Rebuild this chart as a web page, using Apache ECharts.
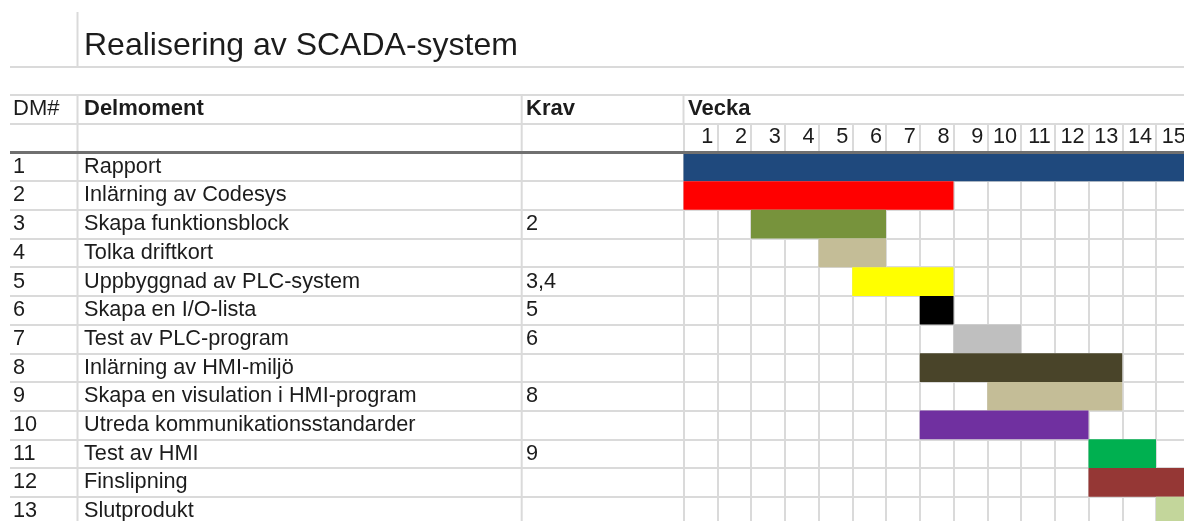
<!DOCTYPE html>
<html>
<head>
<meta charset="utf-8">
<title>Realisering av SCADA-system</title>
<script src="https://cdn.jsdelivr.net/npm/echarts@6/dist/echarts.min.js"></script>
<style>
html, body { margin: 0; padding: 0; background: #fff; }
#main { width: 1184px; height: 521px; }
</style>
</head>
<body>
<div id="main"></div>
<script>
// table data
var dmIds = ['1', '2', '3', '4', '5', '6', '7', '8', '9', '10', '11', '12', '13'];
var tasks = ['Rapport', 'Inlärning av Codesys', 'Skapa funktionsblock', 'Tolka driftkort',
	'Uppbyggnad av PLC-system', 'Skapa en I/O-lista', 'Test av PLC-program', 'Inlärning av HMI-miljö',
	'Skapa en visulation i HMI-program', 'Utreda kommunikationsstandarder', 'Test av HMI',
	'Finslipning', 'Slutprodukt'];
var krav = ['', '', '2', '', '3,4', '5', '6', '', '8', '', '9', '', ''];
// first and last week of each task
var startWeek = [1, 1, 3, 5, 6, 8, 9, 8, 10, 8, 13, 13, 15];
var endWeek = [15, 8, 6, 6, 8, 8, 10, 13, 13, 12, 14, 15, 15];
var barColors = ['#1f497d', '#ff0000', '#77933c', '#c4bd97', '#ffff00', '#000000', '#bfbfbf',
	'#494429', '#c4bd97', '#7030a0', '#00b050', '#953735', '#c3d69b'];
var weekLabels = ['1', '2', '3', '4', '5', '6', '7', '8', '9', '10', '11', '12', '13', '14', '15'];

// layout
var rowH = 28.68;
var tableTop = 152.5;
var tableLeft = 10;
var ganttLeft = 683.5;
var weekW = 33.75;
var gridColor = '#dadada';
var textColor = '#1c1c1c';
var fontFam = '"Liberation Sans", Arial, sans-serif';
var cellFont = 21.7;

var myChart = echarts.init(document.getElementById('main'));

var barData = [];
var rowData = [];
for (var i = 0; i < tasks.length; i++) {
	barData.push([startWeek[i] - 1, endWeek[i], i]);
	rowData.push([0, i]);
}

// one text column of the table, drawn in the row scale of grid 0
function textColumn(texts, offset) {
	return {
		type: 'custom',
		xAxisIndex: 0,
		yAxisIndex: 0,
		data: rowData,
		silent: true,
		renderItem: function (params, api) {
			var p = api.coord([0, api.value(1) + 0.5]);
			return {
				type: 'text',
				x: p[0] + offset,
				y: p[1],
				style: {
					text: texts[params.dataIndex],
					fontSize: cellFont,
					fontFamily: fontFam,
					fill: textColor,
					verticalAlign: 'middle'
				}
			};
		}
	};
}

var hidden = { show: false };

var option = {
	backgroundColor: '#fff',
	animation: false,
	grid: [
		{ left: tableLeft, top: tableTop - 3 * rowH, width: 1174, height: 16 * rowH,
			containLabel: false, outerBoundsMode: 'none' },
		{ left: ganttLeft, top: tableTop, width: 15 * weekW, height: 13 * rowH,
			containLabel: false, outerBoundsMode: 'none' }
	],
	xAxis: [
		{ gridIndex: 0, type: 'value', min: 0, max: 1, show: false },
		{
			gridIndex: 1, type: 'value', position: 'top', min: 0, max: 15, interval: 1,
			axisLine: hidden,
			axisTick: { show: true, inside: false, length: 29.2, lineStyle: { color: gridColor, width: 2 } },
			axisLabel: {
				margin: 4,
				align: 'right',
				padding: [0, 4, 0, 0],
				color: textColor,
				fontSize: cellFont,
				fontFamily: fontFam,
				formatter: function (v) { return v === 0 ? '' : weekLabels[v - 1]; }
			},
			splitLine: { show: true, lineStyle: { color: gridColor, width: 2 } }
		}
	],
	yAxis: [
		{
			gridIndex: 0, type: 'value', inverse: true, min: -3, max: 13, interval: 1,
			axisLine: hidden, axisTick: hidden, axisLabel: hidden,
			splitLine: { show: true, lineStyle: { color: gridColor, width: 2 } }
		},
		{
			gridIndex: 1, type: 'value', inverse: true, min: 0, max: 13, interval: 1,
			axisLine: hidden, axisTick: hidden, axisLabel: hidden, splitLine: hidden
		}
	],
	series: [
		textColumn(dmIds, 13 - tableLeft),
		textColumn(tasks, 84 - tableLeft),
		textColumn(krav, 526 - tableLeft),
		{
			type: 'custom',
			xAxisIndex: 1,
			yAxisIndex: 1,
			data: barData,
			encode: { x: [0, 1], y: 2 },
			renderItem: function (params, api) {
				var p0 = api.coord([api.value(0), api.value(2)]);
				var p1 = api.coord([api.value(1), api.value(2) + 1]);
				return {
					type: 'rect',
					shape: { x: p0[0], y: p0[1], width: p1[0] - p0[0], height: p1[1] - p0[1] },
					style: { fill: barColors[params.dataIndex] }
				};
			}
		}
	],
	graphic: [
		{ type: 'text', x: 84, y: 46, z: 10,
			style: { text: 'Realisering av SCADA-system', fontSize: 32, fontFamily: fontFam, fill: textColor, verticalAlign: 'middle' } },
		{ type: 'text', x: 13, y: 109, z: 10,
			style: { text: 'DM#', fontSize: 22, fontFamily: fontFam, fill: textColor, verticalAlign: 'middle' } },
		{ type: 'text', x: 84, y: 109, z: 10,
			style: { text: 'Delmoment', fontSize: 22, fontWeight: 'bold', fontFamily: fontFam, fill: textColor, verticalAlign: 'middle' } },
		{ type: 'text', x: 526, y: 109, z: 10,
			style: { text: 'Krav', fontSize: 22, fontWeight: 'bold', fontFamily: fontFam, fill: textColor, verticalAlign: 'middle' } },
		{ type: 'text', x: 688, y: 109, z: 10,
			style: { text: 'Vecka', fontSize: 22, fontWeight: 'bold', fontFamily: fontFam, fill: textColor, verticalAlign: 'middle' } },
		{ type: 'line', z: 10, shape: { x1: 77.5, y1: 12, x2: 77.5, y2: 66.5 }, style: { stroke: gridColor, lineWidth: 2 } },
		{ type: 'line', z: 10, shape: { x1: 77.5, y1: 94.2, x2: 77.5, y2: 521 }, style: { stroke: gridColor, lineWidth: 2 } },
		{ type: 'line', z: 10, shape: { x1: 521.7, y1: 94.2, x2: 521.7, y2: 521 }, style: { stroke: gridColor, lineWidth: 2 } },
		{ type: 'line', z: 10, shape: { x1: ganttLeft, y1: 94.2, x2: ganttLeft, y2: 123.3 }, style: { stroke: gridColor, lineWidth: 2 } },
		{ type: 'line', z: 11, shape: { x1: tableLeft, y1: tableTop, x2: 1184, y2: tableTop }, style: { stroke: '#707070', lineWidth: 3 } }
	]
};

myChart.setOption(option);
</script>
</body>
</html>
